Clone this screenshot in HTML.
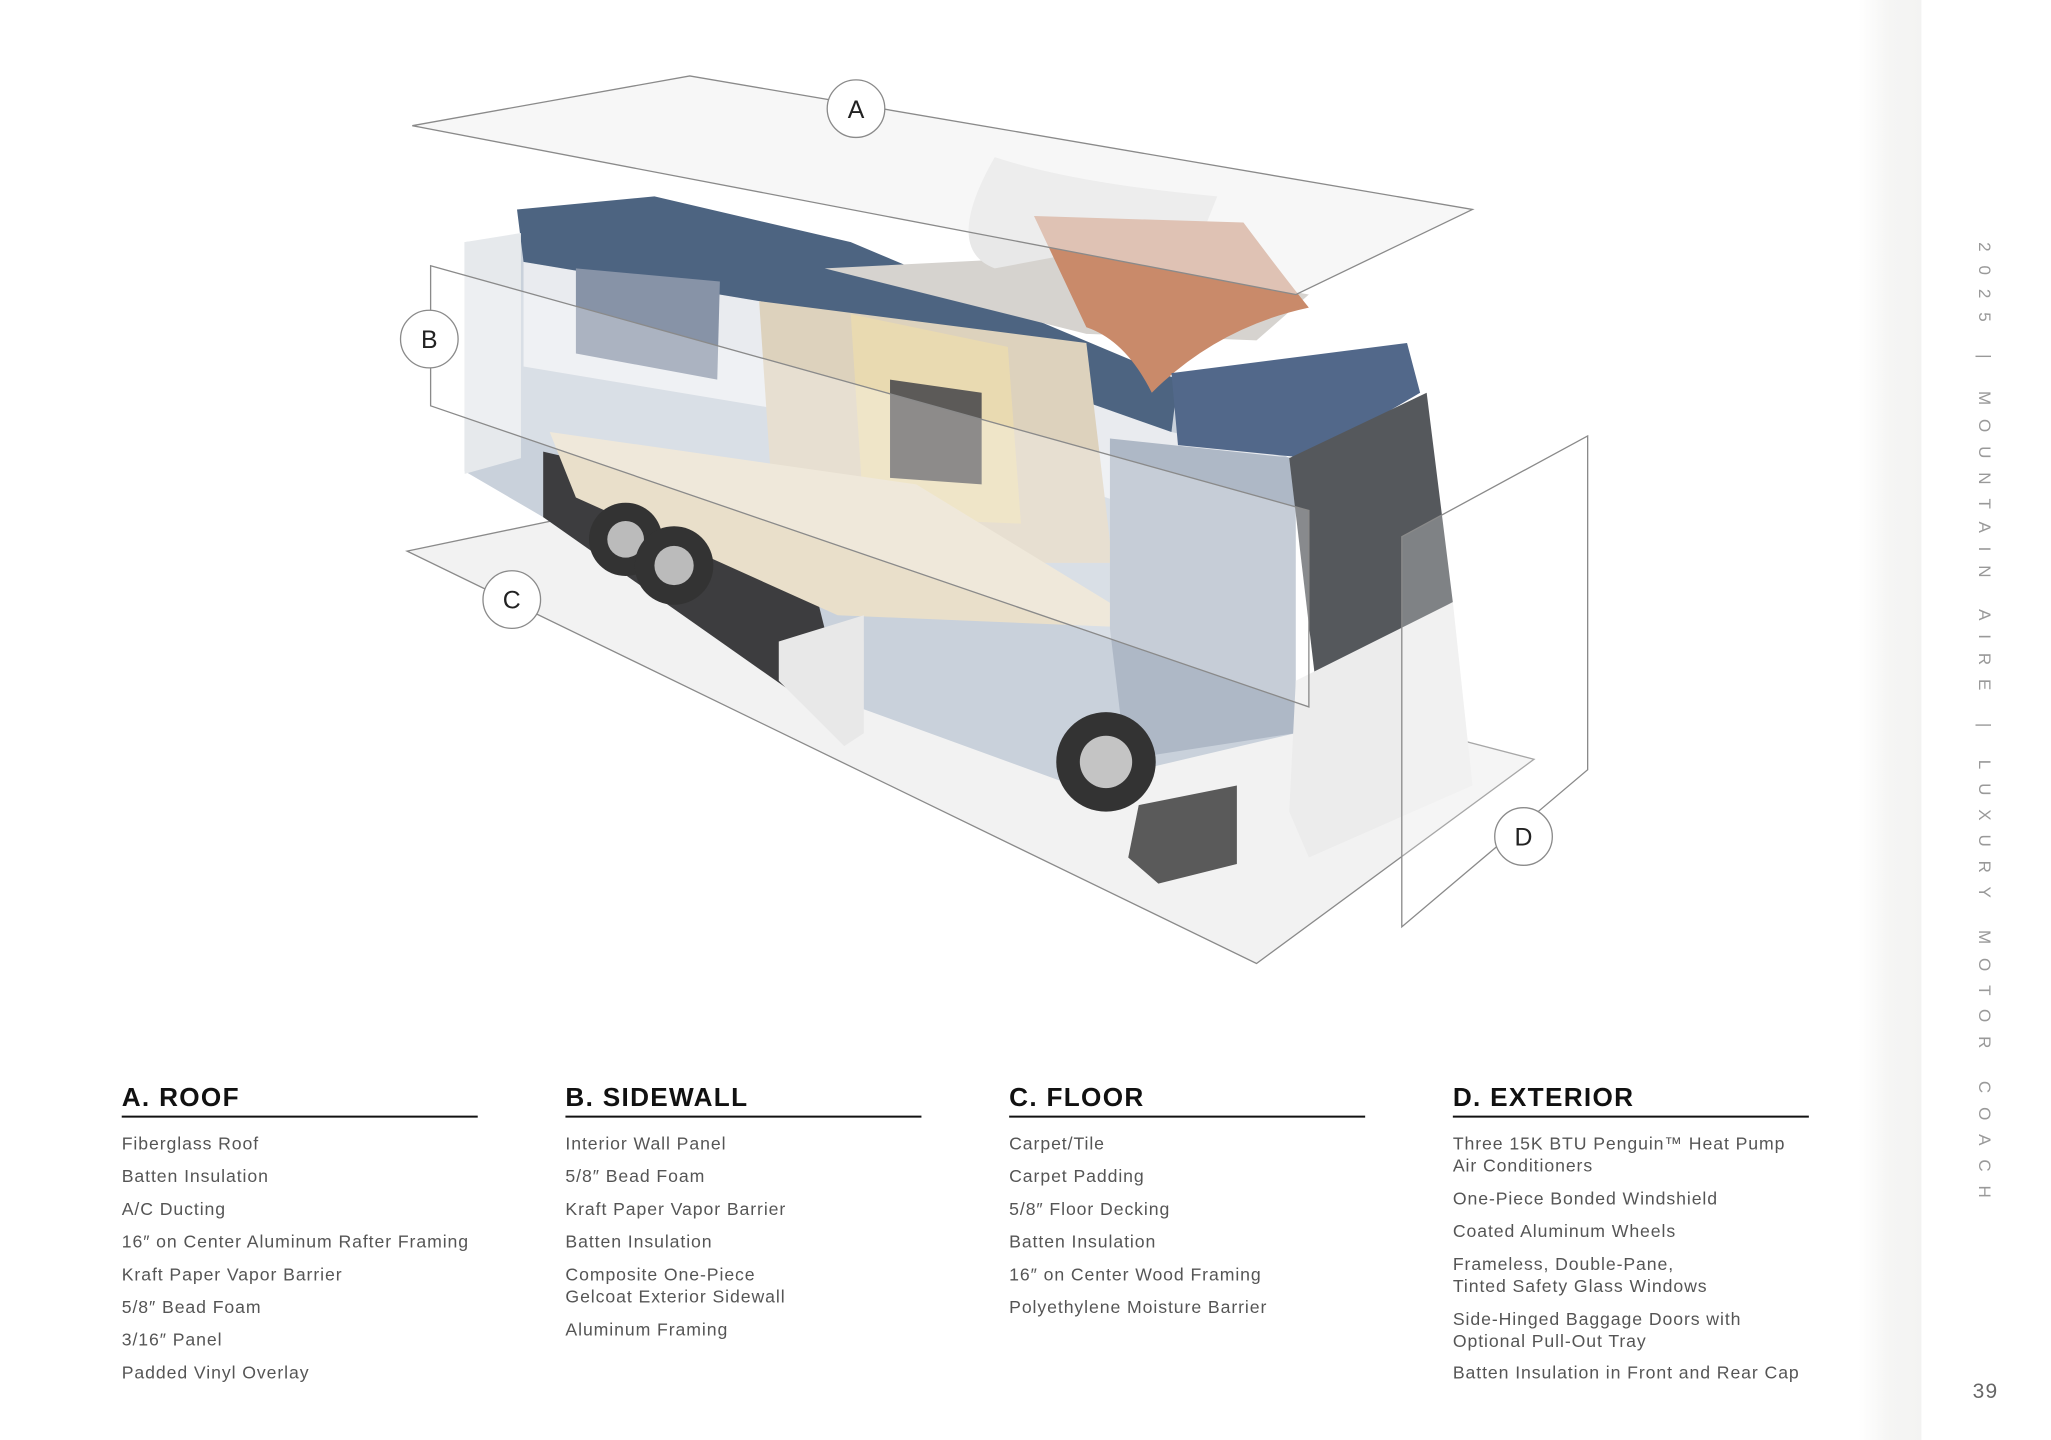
<!DOCTYPE html>
<html><head><meta charset="utf-8"><style>
html,body{margin:0;padding:0;background:#fff;}
svg{display:block;}
text{font-family:"Liberation Sans",sans-serif;}
</style></head><body>
<svg width="2051" height="1440" viewBox="0 0 1567 1100" preserveAspectRatio="none" xmlns="http://www.w3.org/2000/svg">
<defs>
<linearGradient id="side" x1="0" x2="1"><stop offset="0" stop-color="#fff"/><stop offset="0.5" stop-color="#f5f5f4"/><stop offset="1" stop-color="#f3f3f2"/></linearGradient>
</defs>
<rect x="1420" y="0" width="48" height="1100" fill="url(#side)"/>
<!-- floor plane C -->
<polygon points="311,421 450,392 1172,580 960,736" fill="#f2f2f2" stroke="#8a8a8a" stroke-width="1"/>
<!-- bus -->
<polygon points="355,185 400,180 895,290 985,350 990,560 820,600 600,520 415,395 355,360" fill="#c9d1db"/>
<polygon points="400,200 640,240 895,330 985,350 990,430 700,330 400,280" fill="#eef0f2" opacity="0.85"/>
<polygon points="395,160 500,150 650,185 900,290 895,330 640,240 400,200" fill="#4d6481"/>
<polygon points="355,185 398,178 398,350 355,362" fill="#e6e9ec"/>
<polygon points="440,205 550,215 548,290 440,270" fill="#8793a7"/>
<polygon points="415,345 445,352 620,440 640,520 600,525 415,395" fill="#3d3d3f"/>
<polygon points="580,230 830,262 850,430 640,430 590,380" fill="#ddd2bd"/>
<polygon points="650,240 770,265 780,400 660,395" fill="#ecdcae" opacity="0.8"/>
<polygon points="680,290 750,300 750,370 680,365" fill="#5c5a58"/>
<polygon points="420,330 700,370 880,480 640,470 440,380" fill="#e9dfca"/>
<polygon points="630,205 830,195 1000,225 960,260 830,255" fill="#d6d3cf"/>
<path d="M760,120 Q820,140 930,150 L920,175 Q840,190 760,205 Q720,190 760,120 Z" fill="#e8e8e8"/>
<path d="M790,165 L950,170 Q980,210 1000,235 Q930,250 880,300 Q860,260 830,250 Z" fill="#c98a6a"/>
<polygon points="895,285 1075,262 1085,300 1000,350 900,340" fill="#52688a"/>
<polygon points="848,335 990,350 990,560 860,580 848,480" fill="#aeb8c6"/>
<polygon points="985,350 1090,300 1110,460 1005,520" fill="#55585c"/>
<polygon points="990,520 1110,460 1125,600 1000,655 985,620" fill="#ececec"/>
<polygon points="870,615 945,600 945,660 885,675 862,655" fill="#5a5a5a"/>
<polygon points="595,490 660,470 660,560 645,570 595,520" fill="#e8e8e8"/>
<circle cx="478" cy="412" r="28" fill="#333"/><circle cx="478" cy="412" r="14" fill="#bbb"/>
<circle cx="515" cy="432" r="30" fill="#333"/><circle cx="515" cy="432" r="15" fill="#bbb"/>
<circle cx="845" cy="582" r="38" fill="#333"/><circle cx="845" cy="582" r="20" fill="#c4c4c4"/>
<!-- sidewall plane B -->
<polygon points="329,203 1000,390 1000,540 329,310" fill="#ffffff" fill-opacity="0.3" stroke="#8a8a8a" stroke-width="1"/>
<!-- roof plane A -->
<polygon points="315,96 527,58 1125,160 990,225" fill="#f0f0f0" fill-opacity="0.55" stroke="#8a8a8a" stroke-width="1"/>
<!-- exterior plane D -->
<polygon points="1071,410 1213,333 1213,588 1071,708" fill="#ffffff" fill-opacity="0.25" stroke="#8a8a8a" stroke-width="1"/>
<!-- labels -->
<g stroke="#8a8a8a" stroke-width="1" fill="#fff">
<circle cx="654" cy="83" r="22"/><circle cx="328" cy="259" r="22"/><circle cx="391" cy="458" r="22"/><circle cx="1164" cy="639" r="22"/>
</g>
<g font-size="19" fill="#222" text-anchor="middle">
<text x="654" y="90">A</text><text x="328" y="266">B</text><text x="391" y="465">C</text><text x="1164" y="646">D</text>
</g>
<!-- sidebar -->
<text transform="translate(1512,185) rotate(90)" font-size="13" fill="#999" textLength="730" lengthAdjust="spacing">2025 | MOUNTAIN AIRE | LUXURY MOTOR COACH</text>
<text x="1517" y="1068" font-size="16" fill="#666" text-anchor="middle" letter-spacing="1">39</text>
<!-- columns -->
<g font-size="20" font-weight="bold" fill="#111" letter-spacing="1">
<text x="93" y="845">A. ROOF</text><text x="432" y="845">B. SIDEWALL</text><text x="771" y="845">C. FLOOR</text><text x="1110" y="845">D. EXTERIOR</text>
</g>
<g stroke="#111" stroke-width="1.5">
<line x1="93" y1="853" x2="365" y2="853"/><line x1="432" y1="853" x2="704" y2="853"/><line x1="771" y1="853" x2="1043" y2="853"/><line x1="1110" y1="853" x2="1382" y2="853"/>
</g>
<g font-size="13.5" fill="#555" letter-spacing="0.7">
<text x="93" y="878">Fiberglass Roof</text>
<text x="93" y="903">Batten Insulation</text>
<text x="93" y="928">A/C Ducting</text>
<text x="93" y="953">16″ on Center Aluminum Rafter Framing</text>
<text x="93" y="978">Kraft Paper Vapor Barrier</text>
<text x="93" y="1003">5/8″ Bead Foam</text>
<text x="93" y="1028">3/16″ Panel</text>
<text x="93" y="1053">Padded Vinyl Overlay</text>
<text x="432" y="878">Interior Wall Panel</text>
<text x="432" y="903">5/8″ Bead Foam</text>
<text x="432" y="928">Kraft Paper Vapor Barrier</text>
<text x="432" y="953">Batten Insulation</text>
<text x="432" y="978">Composite One-Piece</text>
<text x="432" y="995">Gelcoat Exterior Sidewall</text>
<text x="432" y="1020">Aluminum Framing</text>
<text x="771" y="878">Carpet/Tile</text>
<text x="771" y="903">Carpet Padding</text>
<text x="771" y="928">5/8″ Floor Decking</text>
<text x="771" y="953">Batten Insulation</text>
<text x="771" y="978">16″ on Center Wood Framing</text>
<text x="771" y="1003">Polyethylene Moisture Barrier</text>
<text x="1110" y="878">Three 15K BTU Penguin™ Heat Pump</text>
<text x="1110" y="895">Air Conditioners</text>
<text x="1110" y="920">One-Piece Bonded Windshield</text>
<text x="1110" y="945">Coated Aluminum Wheels</text>
<text x="1110" y="970">Frameless, Double-Pane,</text>
<text x="1110" y="987">Tinted Safety Glass Windows</text>
<text x="1110" y="1012">Side-Hinged Baggage Doors with</text>
<text x="1110" y="1029">Optional Pull-Out Tray</text>
<text x="1110" y="1053">Batten Insulation in Front and Rear Cap</text>
</g>
</svg>
</body></html>
